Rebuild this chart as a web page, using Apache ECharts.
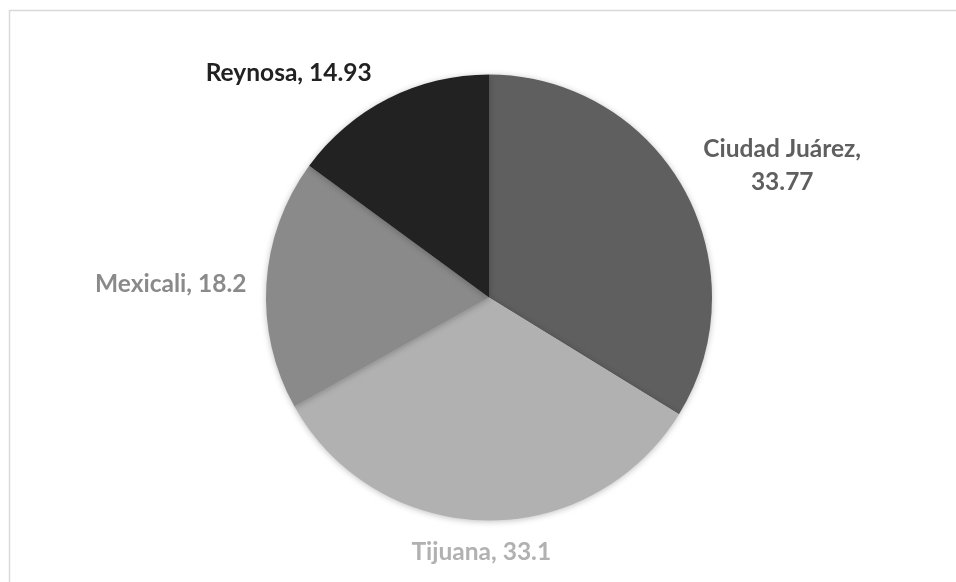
<!DOCTYPE html>
<html><head><meta charset="utf-8">
<script src="https://cdn.jsdelivr.net/npm/echarts@6/dist/echarts.min.js"></script>
<style>html,body{margin:0;padding:0;background:#fff}#c{width:956px;height:582px}</style>
</head><body><div id="c"></div>
<script>
const categories = ['Ciudad Juárez', 'Tijuana', 'Mexicali', 'Reynosa'];
const values = [33.77, 33.1, 18.2, 14.93];
const labelTexts = ['Ciudad Juárez,\n33.77', 'Tijuana, 33.1', 'Mexicali, 18.2', 'Reynosa, 14.93'];
const colors = ['#5f5f5f', '#b1b1b1', '#8a8a8a', '#222222'];

const CX = 489, CY = 297.5, R = 223, GAP = 10;
// small per-label layout nudges (pixels), Excel-like outside-end placement
const NUDGE = [[11, 15], [-3, 5], [-10, 1], [-12, 0]];
const total = values.reduce((a, b) => a + b, 0);
const midAngles = [];
let acc = 0;
values.forEach(v => { midAngles.push(Math.PI / 2 - (acc + v / 2) / total * 2 * Math.PI); acc += v; });

const chart = echarts.init(document.getElementById('c'));
chart.setOption({
  animation: false,
  graphic: [{
    type: 'rect', shape: { x: 9.5, y: 10.5, width: 980, height: 600 },
    style: { fill: 'none', stroke: '#d9d9d9', lineWidth: 1.5 }, silent: true
  }],
  series: [{
    type: 'pie',
    center: [CX, CY],
    radius: R,
    startAngle: 90,
    clockwise: true,
    data: categories.map((n, i) => ({
      name: n, value: values[i],
      itemStyle: { color: colors[i] },
      label: { color: colors[i], formatter: labelTexts[i] }
    })),
    itemStyle: { shadowBlur: 6, shadowColor: 'rgba(0,0,0,0.25)', shadowOffsetY: 1 },
    label: {
      show: true, position: 'outside',
      fontFamily: 'Lato', fontWeight: 'bold', fontSize: 24.5, lineHeight: 33, align: 'center'
    },
    labelLine: { show: false },
    labelLayout: function (p) {
      const i = p.dataIndex;
      const a = midAngles[i];
      const c = Math.cos(a), s = Math.sin(a);
      const px = CX + (R + GAP) * c, py = CY - (R + GAP) * s;
      const w = p.labelRect.width, h = p.labelRect.height;
      let x = px, y = py;
      if (c > 0.3) x = px + w / 2; else if (c < -0.3) x = px - w / 2;
      if (s > 0.3) y = py - h / 2; else if (s < -0.3) y = py + h / 2;
      return { x: x + NUDGE[i][0], y: y + NUDGE[i][1], align: 'center', verticalAlign: 'middle' };
    },
    emphasis: { disabled: true }
  }]
});
</script></body></html>
